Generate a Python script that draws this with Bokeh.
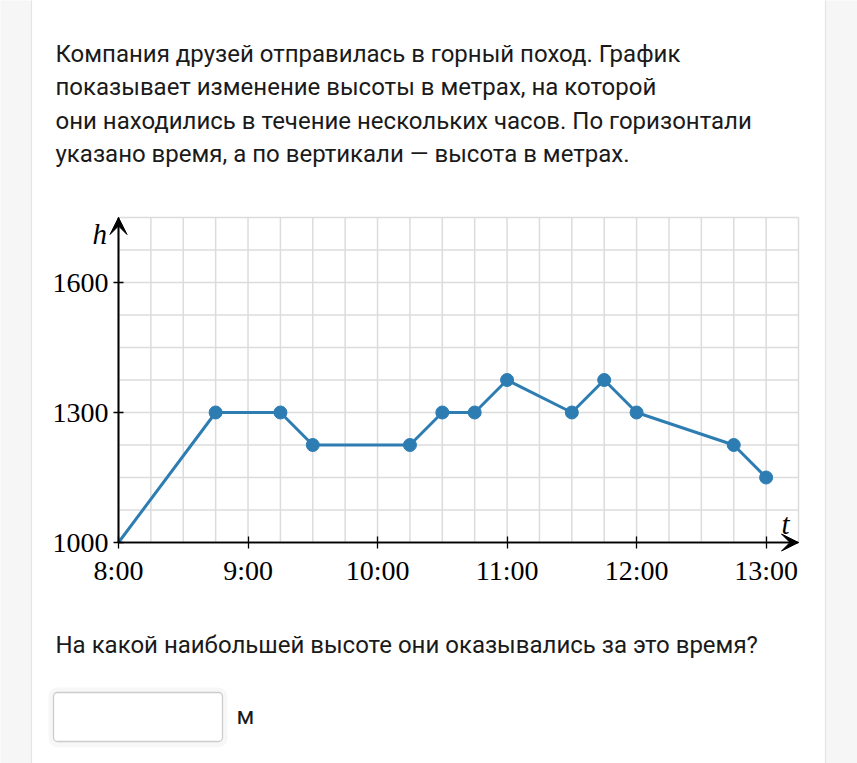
from bokeh.plotting import figure
from bokeh.models import (Range1d, FixedTicker, Label, BoxAnnotation, Arrow, VeeHead,
                          CustomJSTickFormatter)
from bokeh.embed import file_html
from bokeh.resources import INLINE
import numpy as np

# ---------------- data ----------------
times = ["8:00", "8:45", "9:15", "9:30", "10:15", "10:30", "10:45",
         "11:00", "11:30", "11:45", "12:00", "12:45", "13:00"]
heights = [1000, 1300, 1300, 1225, 1225, 1300, 1300,
           1375, 1300, 1375, 1300, 1225, 1150]
x_tick_labels = ["8:00", "9:00", "10:00", "11:00", "12:00", "13:00"]
y_ticks = [1000, 1300, 1600]

intro_lines = [
    "Компания друзей отправилась в горный поход. График",
    "показывает изменение высоты в метрах, на которой",
    "они находились в течение нескольких часов. По горизонтали",
    "указано время, а по вертикали — высота в метрах.",
]
question = "На какой наибольшей высоте они оказывались за это время?"
unit = "м"


def to_hours(s):
    h, m = s.split(":")
    return int(h) + int(m) / 60.0


hours = [to_hours(t) for t in times]
x_ticks = [to_hours(t) for t in x_tick_labels]

# chart box (data)
X0, X1 = 8.0, 13.25
Y0, Y1 = 1000, 1750
GX, GY = 0.25, 75          # grid steps

# ---------------- layout: where the chart box sits on the page ----------------
W, H = 857, 763
PX0, PX1 = 118, 798        # page x of X0, X1
PY0, PY1 = 542, 217        # page y of Y0, Y1
kx = (PX1 - PX0) / (X1 - X0)
ky = (PY0 - PY1) / (Y1 - Y0)
x_range = Range1d(X0 - PX0 / kx, X0 + (W - PX0) / kx)
y_range = Range1d(Y0 - (H - PY0) / ky, Y0 + PY0 / ky)

p = figure(width=W, height=H, x_range=x_range, y_range=y_range,
           output_backend="svg", toolbar_location=None,
           min_border=0)
p.border_fill_color = "white"
p.background_fill_color = "white"
p.outline_line_color = None
p.xgrid.visible = False
p.ygrid.visible = False

# ---------------- page decoration (screen units, origin bottom-left) ----------------
def sy(py):
    return H - py


card_line = "#e4e4e4"
band = "#f6f6f6"
box_kw = dict(left_units="screen", right_units="screen",
              bottom_units="screen", top_units="screen", level="underlay")
p.add_layout(BoxAnnotation(left=-5, right=31, bottom=-5, top=H + 5,
                           fill_color=band, fill_alpha=1, line_color=card_line,
                           line_alpha=1, line_width=1.2, **box_kw))
p.add_layout(BoxAnnotation(left=825, right=W + 5, bottom=-5, top=H + 5,
                           fill_color=band, fill_alpha=1, line_color=card_line,
                           line_alpha=1, line_width=1.2, **box_kw))
# answer input box (faint shadow + box)
p.add_layout(BoxAnnotation(left=48, right=227, bottom=sy(747), top=sy(687),
                           fill_color="black", fill_alpha=0.03, line_color=None,
                           border_radius=9, **box_kw))
p.add_layout(BoxAnnotation(left=53, right=222, bottom=sy(741), top=sy(692),
                           fill_color="white", fill_alpha=1, line_color="#cccccc",
                           line_alpha=1, line_width=1.3, border_radius=4, **box_kw))

# ---------------- grid ----------------
gx = np.arange(X0, X1 + GX / 2, GX)
gy = np.arange(Y0, Y1 + GY / 2, GY)
grid_color = "#dcdcdc"
p.segment(x0=gx, y0=[Y0] * len(gx), x1=gx, y1=[Y1] * len(gx),
          line_color=grid_color, line_width=1.5)
p.segment(x0=[X0] * len(gy), y0=gy, x1=[X1] * len(gy), y1=gy,
          line_color=grid_color, line_width=1.5)

# ---------------- axes (fixed inside the canvas) ----------------
serif = "Liberation Serif"
xa = p.xaxis[0]
xa.ticker = FixedTicker(ticks=x_ticks)
xa.formatter = CustomJSTickFormatter(code="""
    const h = Math.floor(tick + 1e-9);
    const m = Math.round((tick - h) * 60);
    return h + ":" + (m < 10 ? "0" : "") + m;
""")
xa.fixed_location = Y0
xa.bounds = (X0, X1)
ya = p.yaxis[0]
ya.ticker = FixedTicker(ticks=y_ticks)
ya.fixed_location = X0
ya.bounds = (Y0, Y1)
for ax in (xa, ya):
    ax.axis_line_color = "black"
    ax.axis_line_width = 1.6
    ax.major_tick_line_color = "black"
    ax.major_tick_line_width = 1.3
    ax.minor_tick_line_color = None
    ax.major_label_text_font = serif
    ax.major_label_text_font_size = "28px"
    ax.major_label_text_color = "black"
xa.major_tick_in = 6
xa.major_tick_out = 6
xa.major_label_standoff = 6
ya.major_tick_in = 5
ya.major_tick_out = 5
ya.major_label_standoff = 5

# axis arrows
p.add_layout(Arrow(end=VeeHead(size=17, fill_color="black", line_color="black"),
                   x_start=X0, y_start=Y0, x_end=X1, y_end=Y0,
                   line_width=1.6, line_color="black"))
p.add_layout(Arrow(end=VeeHead(size=17, fill_color="black", line_color="black"),
                   x_start=X0, y_start=Y0, x_end=X0, y_end=Y1,
                   line_width=1.6, line_color="black"))

# ---------------- series ----------------
blue = "#2d7db3"
p.line(hours, heights, line_color=blue, line_width=3)
p.scatter(hours[1:], heights[1:], size=13, fill_color=blue, line_color=blue)

# ---------------- texts ----------------
text_color = "#1a1a1a"
FS = 24


def add_text(x, baseline, text, font="Roboto", size=FS, style="normal",
             color=text_color, shift=0.36):
    p.add_layout(Label(x=x, y=sy(baseline) + shift * size, x_units="screen",
                       y_units="screen", text=text, text_font=font,
                       text_font_style=style, text_font_size=f"{size}px",
                       text_color=color, text_baseline="alphabetic"))


baselines = [62, 95, 129, 162]
for line, b in zip(intro_lines, baselines):
    add_text(55, b, line)
add_text(55, 653, question)
add_text(236, 724, unit)

# axis names
add_text(92, 243, "h", font=serif, size=29, style="italic", color="black", shift=0.32)
add_text(781, 533, "t", font=serif, size=29, style="italic", color="black", shift=0.32)

open("out.html", "w").write(file_html(p, INLINE))
